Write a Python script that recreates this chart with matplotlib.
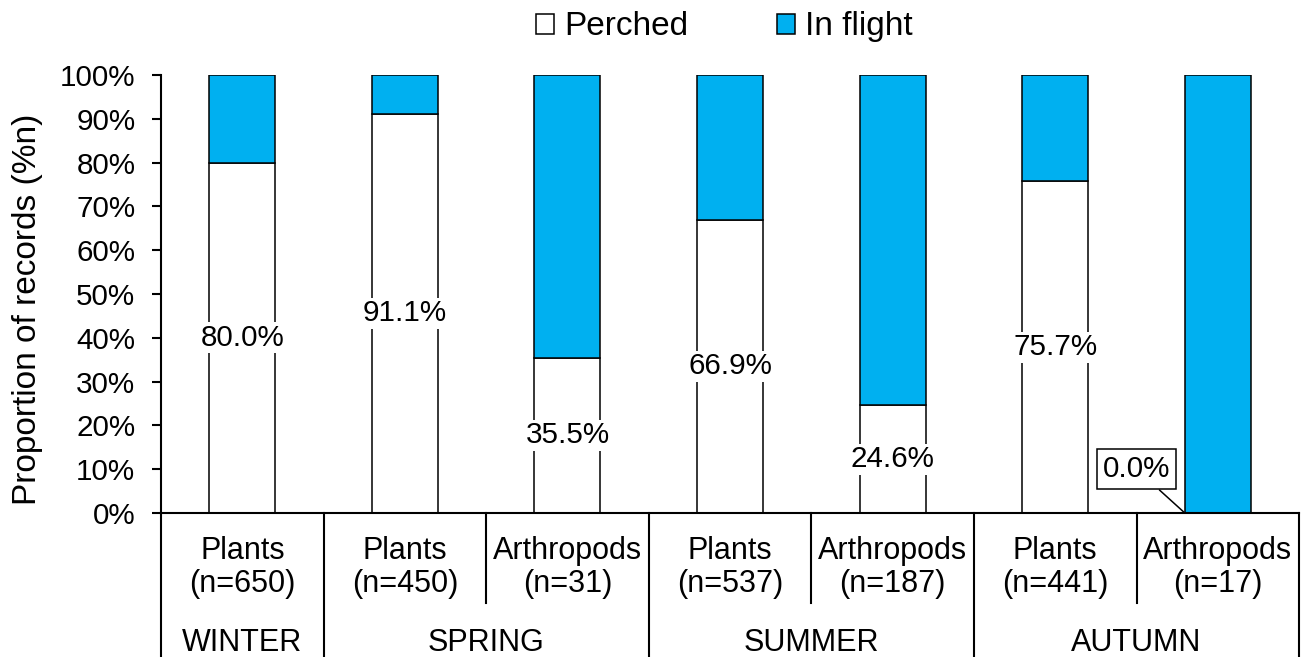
import numpy as np
import matplotlib
matplotlib.use('Agg')
import matplotlib.pyplot as plt
from matplotlib.patches import Patch

plt.rcParams['font.family'] = ['Liberation Sans', 'DejaVu Sans']

groups = ['Plants', 'Plants', 'Arthropods', 'Plants', 'Arthropods', 'Plants', 'Arthropods']
counts = [650, 450, 31, 537, 187, 441, 17]
perched = [80.0, 91.1, 35.5, 66.9, 24.6, 75.7, 0.0]
in_flight = [100 - p for p in perched]
seasons = ['WINTER', 'SPRING', 'SUMMER', 'AUTUMN']
season_members = [[0], [1, 2], [3, 4], [5, 6]]

blue = '#00B0F0'


def main():
    fig = plt.figure(figsize=(13.03, 6.57), dpi=100)
    ax = fig.add_axes([0.1236, 0.2192, 0.8734, 0.6666])
    x = np.arange(len(perched))
    w = 0.406
    ax.bar(x, perched, w, color='white', edgecolor='black', linewidth=1.1, zorder=2)
    ax.bar(x, in_flight, w, bottom=perched, color=blue, edgecolor='black', linewidth=1.1, zorder=2)

    ax.set_xlim(-0.5, len(perched) - 0.5)
    ax.set_ylim(0, 100)
    ax.set_yticks(np.arange(0, 101, 10))
    ax.set_yticklabels(['%d%%' % v for v in range(0, 101, 10)])
    ax.tick_params(axis='y', labelsize=21.3, length=6.5, width=1.5, direction='out', pad=12)
    ax.set_xticks([])
    ax.spines['right'].set_visible(False)
    ax.spines['top'].set_visible(False)
    ax.spines['left'].set_linewidth(1.5)
    ax.spines['bottom'].set_linewidth(1.5)
    ax.set_ylabel('Proportion of records (%n)', fontsize=24)
    ax.yaxis.set_label_coords(-0.104, 0.466)

    # data labels
    for i, p in enumerate(perched):
        if p > 0:
            ax.text(i, p / 2, '%.1f%%' % p, ha='center', va='center', fontsize=21.3,
                    bbox=dict(facecolor='white', edgecolor='none', pad=1), zorder=3)
        else:
            ax.annotate('%.1f%%' % p, xy=(i - w / 2, 0), xytext=(i - 0.5, 10),
                        ha='center', va='center', fontsize=21.3, zorder=3,
                        bbox=dict(facecolor='white', edgecolor='black', linewidth=1.1, pad=4.5),
                        arrowprops=dict(arrowstyle='-', color='black', lw=1.1,
                                        shrinkA=0, shrinkB=0))

    # category axis
    trans = ax.get_xaxis_transform()
    for i in range(len(perched)):
        ax.text(i, -0.125, '%s\n(n=%d)' % (groups[i], counts[i]), transform=trans,
                ha='center', va='center', fontsize=22, linespacing=1.15)
    bounds = set()
    for m in season_members:
        bounds.add(m[0] - 0.5)
        bounds.add(m[-1] + 0.5)
    for b in np.arange(-0.5, len(perched), 1.0):
        low = -0.33 if b in bounds else -0.2055
        ax.plot([b, b], [0, low], transform=trans, color='black', lw=1.5, clip_on=False)
    for s, m in zip(seasons, season_members):
        ax.text(np.mean(m), -0.296, s, transform=trans, ha='center', va='center', fontsize=22)

    handles = [Patch(facecolor='white', edgecolor='black', linewidth=1.1, label='Perched'),
               Patch(facecolor=blue, edgecolor='black', linewidth=1.1, label='In flight')]
    fig.legend(handles=handles, loc='center', bbox_to_anchor=(0.556, 0.959), ncol=2,
               frameon=False, fontsize=24, handlelength=0.55, handleheight=0.55,
               handletextpad=0.3, columnspacing=2.65)

    fig.savefig('out.png', dpi=100)


if __name__ == '__main__':
    main()
